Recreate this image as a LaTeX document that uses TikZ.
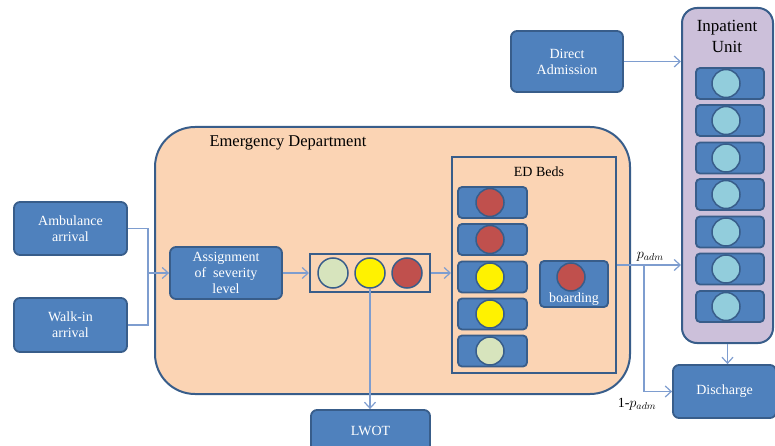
\documentclass[tikz,border=0pt]{standalone}
\usepackage{fontspec}
\setmainfont{Liberation Serif}
\usetikzlibrary{arrows.meta,positioning}

\definecolor{boxblue}{RGB}{79,129,189}
\definecolor{boxline}{RGB}{56,93,138}
\definecolor{edfill}{RGB}{251,212,180}
\definecolor{ipfill}{RGB}{204,192,218}
\definecolor{linkblue}{RGB}{126,157,207}
\definecolor{lowgreen}{RGB}{215,228,189}
\definecolor{highred}{RGB}{192,80,77}
\definecolor{bedcyan}{RGB}{146,205,220}

\begin{document}
\begin{tikzpicture}[
    x=1pt, y=-1pt,
    block/.style={rectangle, rounded corners=6pt, draw=boxline, fill=boxblue, line width=1.8pt, text=white, align=center},
    bed/.style={rectangle, rounded corners=4pt, draw=boxline, fill=boxblue, line width=1.8pt, minimum width=69pt, minimum height=31pt},
    patient/.style={circle, draw=boxline, line width=1.5pt, minimum size=28pt, inner sep=0pt},
    area/.style={rectangle, draw=boxline, line width=2pt},
    arrow/.style={draw=linkblue, -{Straight Barb[length=6pt,width=11pt]}, line width=1.2pt},
    line/.style={draw=linkblue, line width=1.2pt}
]

  \tikzset{
    font={\fontsize{14pt}{16pt}\selectfont}
  }
\useasboundingbox (0,0) rectangle (775,446);

% Areas
\node[area, fill=edfill, rounded corners=40pt, minimum width=475pt, minimum height=267pt] (ed) at (392.5,260.5) {};
\node[anchor=west, font={\fontsize{16.5pt}{18pt}\selectfont}] (edtitle) at (206,143) {Emergency Department};
\node[area, minimum width=164pt, minimum height=216pt] (edbeds) at (534,265) {};
\node (edbedstitle) at (539,172) {ED Beds};
\node[area, fill=ipfill, rounded corners=15pt, minimum width=91pt, minimum height=335pt] (inpatient) at (727.5,175.5) {};
\node[align=center, font={\fontsize{17pt}{21pt}\selectfont}] (iptitle) at (727,36) {Inpatient\\Unit};

% Nodes
\node[block, minimum width=113pt, minimum height=53pt] (ambulance) at (70.5,228.5) {Ambulance\\arrival};
\node[block, minimum width=113pt, minimum height=54pt] (walkin) at (70.5,325) {Walk-in\\arrival};
\node[block, minimum width=112pt, minimum height=52pt] (assignment) at (226,273) {Assignment\\of~ severity\\level};
\node[block, minimum width=112pt, minimum height=61pt] (direct) at (567,61.5) {Direct\\Admission};
\node[block, minimum width=103pt, minimum height=53pt] (discharge) at (724.5,391.5) {Discharge};
\node[block, minimum width=119pt, minimum height=42pt] (lwot) at (370.5,431) {LWOT};

% Waiting queue
\node[area, minimum width=120pt, minimum height=38pt] (queue) at (370,273) {};
\node[patient, fill=lowgreen, minimum size=30pt] (waitlow) at (333,273) {};
\node[patient, fill=yellow, minimum size=30pt] (waitmid) at (370,273) {};
\node[patient, fill=highred, minimum size=30pt] (waithigh) at (407,273) {};

% ED beds
\node[bed] (edbed1) at (492.5,202.5) {};
\node[patient, fill=highred] (edpat1) at (490,202.5) {};
\node[bed] (edbed2) at (492.5,239.5) {};
\node[patient, fill=highred] (edpat2) at (490,239.5) {};
\node[bed] (edbed3) at (492.5,277) {};
\node[patient, fill=yellow] (edpat3) at (490,277) {};
\node[bed] (edbed4) at (492.5,314) {};
\node[patient, fill=yellow] (edpat4) at (490,314) {};
\node[bed] (edbed5) at (492.5,351) {};
\node[patient, fill=lowgreen] (edpat5) at (490,351) {};

\node[bed, minimum width=68pt, minimum height=46pt] (boarding) at (574,284) {};
\node[patient, fill=highred] (boardpat) at (571,277) {};
\node[anchor=base, text=white] (boardtext) at (574,302) {boarding};

% Inpatient beds
\node[bed, minimum width=68pt] (ipbed1) at (730,83.5) {};
\node[patient, fill=bedcyan] (ippat1) at (726,83.5) {};
\node[bed, minimum width=68pt] (ipbed2) at (730,120.5) {};
\node[patient, fill=bedcyan] (ippat2) at (726,120.5) {};
\node[bed, minimum width=68pt] (ipbed3) at (730,158) {};
\node[patient, fill=bedcyan] (ippat3) at (726,158) {};
\node[bed, minimum width=68pt] (ipbed4) at (730,194.5) {};
\node[patient, fill=bedcyan] (ippat4) at (726,194.5) {};
\node[bed, minimum width=68pt] (ipbed5) at (730,232) {};
\node[patient, fill=bedcyan] (ippat5) at (726,232) {};
\node[bed, minimum width=68pt] (ipbed6) at (730,269) {};
\node[patient, fill=bedcyan] (ippat6) at (726,269) {};
\node[bed, minimum width=68pt] (ipbed7) at (730,306.5) {};
\node[patient, fill=bedcyan] (ippat7) at (726,306.5) {};

% Lines
\coordinate (merge) at (148,273);
\coordinate (split) at (644,265);
\draw[line] (ambulance.east) -| (merge);
\draw[line] (walkin.east) -| (merge);
\draw[arrow] (merge) -- (assignment.west);
\draw[arrow] (assignment) -- (queue);
\draw[arrow] (queue.east) -- (queue.east -| edbeds.west);
\draw[arrow] (waitmid.south) -- (waitmid.south |- lwot.north);
\draw[arrow] (direct.east) -- (direct.east -| inpatient.west);
\draw[arrow] (edbeds.east) -- node[above, pos=0.52] {$p_{adm}$} (edbeds.east -| inpatient.west);
\draw[arrow] (edbeds.east) -- (split) |- (discharge.west);
\draw[arrow] (inpatient.south) -- (inpatient.south |- discharge.north);
\node (notadm) at (637,404) {1-$p_{adm}$};

\end{tikzpicture}
\end{document}
